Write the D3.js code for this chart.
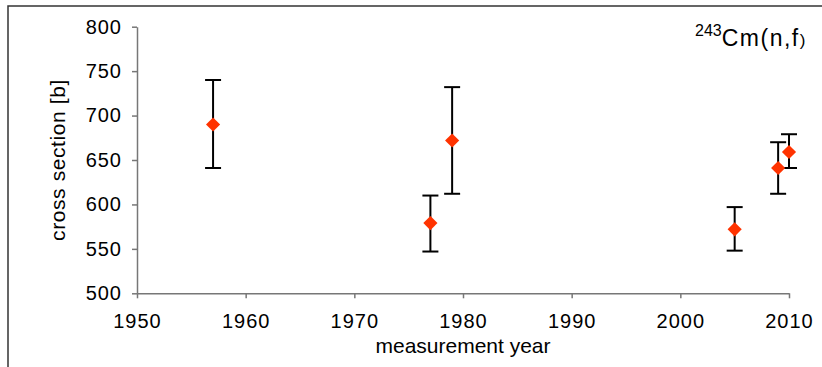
<!DOCTYPE html>
<html>
<head>
<meta charset="utf-8">
<script src="https://cdn.jsdelivr.net/npm/d3@7"></script>
<style>
body { margin:0; background:#fff; }
svg text { font-family: "Liberation Sans", Arial, sans-serif; fill:#000; }
</style>
</head>
<body>
<div id="chart"></div>
<script>
var years  = [1957, 1977, 1979, 2005, 2009, 2010];
var values = [690, 579, 672, 572, 641, 659];
var lower  = [641, 547, 612, 548, 612, 641];
var upper  = [740, 610, 732, 597, 670, 679];
var xTicks = [1950, 1960, 1970, 1980, 1990, 2000, 2010];
var yTicks = [500, 550, 600, 650, 700, 750, 800];

var chart = {
	padding: {l:137, t:26.7, r:33, b:73.7},
	w:822,
	h:367,
	svg:null
};

chart.svg = d3.select('#chart').append('svg')
			.attr('width', chart.w)
			.attr('height', chart.h);

// outer frame (only the left and top edges show in the crop)
chart.svg.append('rect')
		.attr('x', 8).attr('y', 6)
		.attr('width', 900).attr('height', 500)
		.attr('fill', 'none')
		.attr('stroke', '#333')
		.attr('stroke-width', 1.5);

var xScale = d3.scaleLinear()
	.domain([1950, 2010])
	.range([chart.padding.l, chart.w - chart.padding.r]);
var yScale = d3.scaleLinear()
	.domain([500, 800])
	.range([chart.h - chart.padding.b, chart.padding.t]);

var xAxis = d3.axisBottom(xScale).tickValues(xTicks).tickFormat(d3.format('d'))
			.tickSizeInner(5).tickSizeOuter(0);
var yAxis = d3.axisLeft(yScale).tickValues(yTicks)
			.tickSizeInner(5).tickSizeOuter(0).tickPadding(10);

var gx = chart.svg.append('g')
	.attr('transform', 'translate(0,' + yScale.range()[0] + ')')
	.call(xAxis);
var gy = chart.svg.append('g')
	.attr('transform', 'translate(' + chart.padding.l + ',0)')
	.call(yAxis);

[gx, gy].forEach(function(g) {
	g.attr('font-family', null).attr('font-size', null);
	g.selectAll('.domain').attr('stroke', '#777').attr('stroke-width', 1.5);
	g.selectAll('.tick line').attr('stroke', '#777').attr('stroke-width', 1.5);
	g.selectAll('.tick text').style('font-size', '20px').style('letter-spacing', '1px');
});
gx.selectAll('.tick text').attr('y', 35).attr('dy', 0);

// error bars
var bars = chart.svg.append('g').attr('class', 'errors')
	.selectAll('g').data(years).enter().append('g')
	.attr('stroke', '#000').attr('stroke-width', 2);
bars.append('line')
	.attr('x1', d => xScale(d)).attr('x2', d => xScale(d))
	.attr('y1', (d, i) => yScale(upper[i])).attr('y2', (d, i) => yScale(lower[i]));
bars.append('line')
	.attr('x1', d => xScale(d) - 8).attr('x2', d => xScale(d) + 8)
	.attr('y1', (d, i) => yScale(upper[i])).attr('y2', (d, i) => yScale(upper[i]));
bars.append('line')
	.attr('x1', d => xScale(d) - 8).attr('x2', d => xScale(d) + 8)
	.attr('y1', (d, i) => yScale(lower[i])).attr('y2', (d, i) => yScale(lower[i]));

// diamond markers
var diamond = d3.symbol().type(d3.symbolSquare).size(100);
chart.svg.append('g').attr('class', 'points')
	.selectAll('path').data(years).enter().append('path')
	.attr('d', diamond)
	.attr('transform', (d, i) => 'translate(' + xScale(d) + ',' + yScale(values[i]) + ') rotate(45)')
	.attr('fill', '#ff3300');

// axis titles
chart.svg.append('text')
	.attr('x', (xScale.range()[0] + xScale.range()[1]) / 2)
	.attr('y', 353)
	.attr('text-anchor', 'middle')
	.style('font-size', '21px')
	.text('measurement year');

chart.svg.append('text')
	.attr('transform', 'translate(65,' + ((yScale.range()[0] + yScale.range()[1]) / 2) + ') rotate(-90)')
	.attr('text-anchor', 'middle')
	.style('font-size', '21px')
	.style('letter-spacing', '0.6px')
	.text('cross section [b]');

// reaction label
var title = chart.svg.append('text')
	.attr('x', 695).attr('y', 46)
	.style('font-size', '23px')
	.style('letter-spacing', '1.5px');
title.append('tspan').attr('dy', -10).style('font-size', '16px').style('letter-spacing', '0px').text('243');
title.append('tspan').attr('dy', 10).text('Cm(n,f');
title.append('tspan').style('font-size', '17px').text(')');
</script>
</body>
</html>
